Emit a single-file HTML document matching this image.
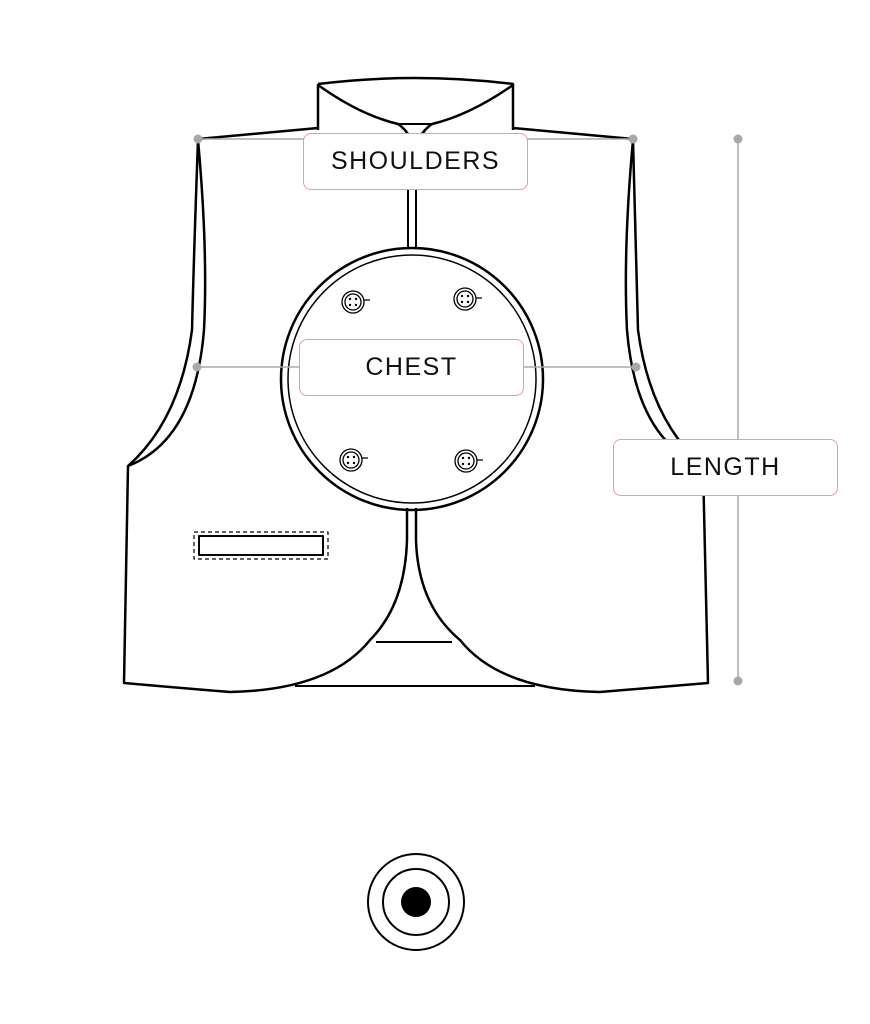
<!DOCTYPE html>
<html><head><style>
html,body{margin:0;padding:0;background:#fff;}
.lbl{position:absolute;border:1.3px solid #f09a9a;border-radius:8px;background:#fff;box-sizing:border-box;font-family:"Liberation Sans",sans-serif;font-size:25px;letter-spacing:1.5px;color:#111;display:flex;align-items:center;justify-content:center;}
</style></head><body>
<div style="position:relative;width:870px;height:1024px;overflow:hidden">
<svg width="870" height="1024" style="position:absolute;left:0;top:0" fill="none" stroke="#000" stroke-width="2.5" stroke-linejoin="round">
<path d="M318,84 Q415,72 513,84 L513,130 M318,84 L318,130"/>
<path d="M318,85 Q360,115 398,124 Q404,128 408,134 M513,85 Q470,115 432,124 Q426,128 422,134"/>
<path d="M396,124 L434,124" stroke-width="2"/>
<path d="M198,139 L318,128 M513,128 L633,139"/>
<path d="M198,140 Q194,250 192,330 Q180,420 128,466 L124,683 Q180,688 230,692 Q330,690 370,640 Q405,605 407,540 L407,508"/>
<path d="M198,140 Q208,250 204,330 Q195,440 128,466"/>
<path d="M633,140 Q636,250 638,330 Q650,420 703,466 L708,683 Q650,688 600,692 Q500,690 460,640 Q418,605 416,540 L416,508"/>
<path d="M633,140 Q623,250 627,330 Q636,440 703,466"/>
<path d="M408,190 L408,248 M416,190 L416,248" stroke-width="2"/>
<path d="M295,686 L535,686" stroke-width="2"/>
<path d="M376,642 L452,642" stroke-width="2"/>
<circle cx="412" cy="379" r="131"/>
<circle cx="412" cy="379" r="124" stroke-width="1.5"/>
<g stroke-width="1.3">
<circle cx="353" cy="302" r="11"/><circle cx="353" cy="302" r="8"/>
<circle cx="465" cy="299" r="11"/><circle cx="465" cy="299" r="8"/>
<circle cx="351" cy="460" r="11"/><circle cx="351" cy="460" r="8"/>
<circle cx="466" cy="461" r="11"/><circle cx="466" cy="461" r="8"/>
<path d="M364,300 L370,300 M476,298 L482,298 M362,458 L368,458 M477,460 L483,460"/>
</g>
<g fill="#000" stroke="none">
<circle cx="350" cy="299" r="1.2"/><circle cx="356" cy="299" r="1.2"/><circle cx="350" cy="305" r="1.2"/><circle cx="356" cy="305" r="1.2"/>
<circle cx="462" cy="296" r="1.2"/><circle cx="468" cy="296" r="1.2"/><circle cx="462" cy="302" r="1.2"/><circle cx="468" cy="302" r="1.2"/>
<circle cx="348" cy="457" r="1.2"/><circle cx="354" cy="457" r="1.2"/><circle cx="348" cy="463" r="1.2"/><circle cx="354" cy="463" r="1.2"/>
<circle cx="463" cy="458" r="1.2"/><circle cx="469" cy="458" r="1.2"/><circle cx="463" cy="464" r="1.2"/><circle cx="469" cy="464" r="1.2"/>
</g>
<rect x="199" y="536" width="124" height="19" stroke-width="2"/>
<rect x="194" y="532" width="134" height="27" stroke-width="1.2" stroke-dasharray="4,3"/>
<g stroke="#aaa" stroke-width="1.5">
<path d="M198,139 L633,139"/>
<path d="M197,367 L636,367"/>
<path d="M738,139 L738,681"/>
</g>
<g fill="#a8a8a8" stroke="none">
<circle cx="198" cy="139" r="4.5"/><circle cx="633" cy="139" r="4.5"/>
<circle cx="197" cy="367" r="4.5"/><circle cx="636" cy="367" r="4.5"/>
<circle cx="738" cy="139" r="4.5"/><circle cx="738" cy="681" r="4.5"/>
</g>
<circle cx="416" cy="902" r="48" stroke-width="2"/>
<circle cx="416" cy="902" r="33" stroke-width="2"/>
<circle cx="416" cy="902" r="15" fill="#000" stroke="none"/>
</svg>
<div class="lbl" style="left:303px;top:133px;width:225px;height:57px">SHOULDERS</div>
<div class="lbl" style="left:299px;top:339px;width:225px;height:57px">CHEST</div>
<div class="lbl" style="left:613px;top:439px;width:225px;height:57px">LENGTH</div>
</div>
</body></html>
